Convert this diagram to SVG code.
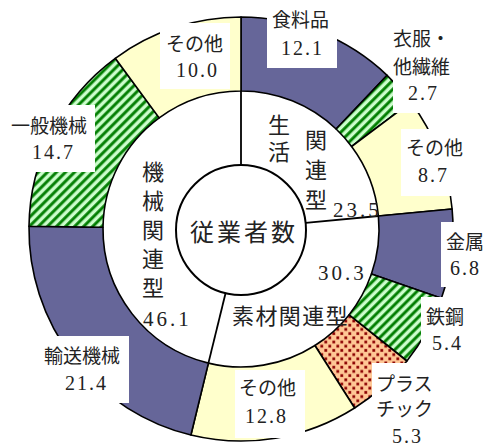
<svg xmlns="http://www.w3.org/2000/svg" width="483" height="446" viewBox="0 0 483 446">
<style>
.w{stroke:#000;stroke-width:1.6;stroke-linejoin:round}
.pu{fill:#666699}
.ye{fill:#FFFFCC}
.st{fill:url(#stripe)}
.dt{fill:url(#dots)}
.box{fill:#fff}
.jp{font-family:"Liberation Serif","Noto Sans CJK JP",serif;font-size:19px;fill:#222}
.num{font-family:"Liberation Serif","Noto Sans CJK JP",serif;font-size:20px;letter-spacing:2px;fill:#222}
.mj{font-family:"Liberation Serif","Noto Sans CJK JP",serif;font-size:22px;fill:#222;text-anchor:middle}
.mn{font-family:"Liberation Serif","Noto Sans CJK JP",serif;font-size:21px;letter-spacing:3px;fill:#222}
.sep{stroke:#000;stroke-width:1.8;fill:none}
</style>
<defs>
<pattern id="stripe" width="6.4" height="6.4" patternUnits="userSpaceOnUse" patternTransform="rotate(45)">
<rect width="6.4" height="6.4" fill="#CCFFCC"/>
<rect x="0" width="3.4" height="6.4" fill="#55AA55"/>
<rect x="0.6" width="2.2" height="6.4" fill="#008000"/>
</pattern>
<pattern id="dots" width="8" height="8.4" patternUnits="userSpaceOnUse">
<rect width="8" height="8.4" fill="#FFC795"/>
<rect x="0.3" y="0.3" width="3" height="3" fill="#B84A3A"/>
<rect x="0.7" y="0.7" width="2.2" height="2.2" fill="#8B0000"/>
<rect x="4.3" y="4.5" width="3" height="3" fill="#B84A3A"/>
<rect x="4.7" y="4.9" width="2.2" height="2.2" fill="#8B0000"/>
</pattern>
</defs>
<rect width="483" height="446" fill="#fff"/>

<g id="ring">
<g id="shokuryohin"><path class="w pu" d="M241,17 A212,212 0 0 1 387.1,75.3 L336.1,129 A138,138 0 0 0 241,91 Z"/></g>
<g id="ifuku"><path class="w st" d="M387.1,75.3 A212,212 0 0 1 410.9,102.2 L351.6,146.5 A138,138 0 0 0 336.1,129 Z"/></g>
<g id="sonota1"><path class="w ye" d="M410.9,102.2 A212,212 0 0 1 452.1,209 L378.4,216 A138,138 0 0 0 351.6,146.5 Z"/></g>
<g id="kinzoku"><path class="w pu" d="M452.1,209 A212,212 0 0 1 441.4,298.3 L371.4,274.1 A138,138 0 0 0 378.4,216 Z"/></g>
<g id="tekko"><path class="w st" d="M441.4,298.3 A212,212 0 0 1 406.9,361 L349,314.9 A138,138 0 0 0 371.4,274.1 Z"/></g>
<g id="plastic"><path class="w dt" d="M406.9,361 A212,212 0 0 1 354.6,408 L314.9,345.5 A138,138 0 0 0 349,314.9 Z"/></g>
<g id="sonota2"><path class="w ye" d="M354.6,408 A212,212 0 0 1 190.9,435 L208.4,363.1 A138,138 0 0 0 314.9,345.5 Z"/></g>
<g id="yuso"><path class="w pu" d="M190.9,435 A212,212 0 0 1 29,226.3 L103,227.3 A138,138 0 0 0 208.4,363.1 Z"/></g>
<g id="ippan"><path class="w st" d="M29,226.3 A212,212 0 0 1 115.3,58.3 L159.2,117.9 A138,138 0 0 0 103,227.3 Z"/></g>
<g id="sonota3"><path class="w ye" d="M115.3,58.3 A212,212 0 0 1 241,17 L241,91 A138,138 0 0 0 159.2,117.9 Z"/></g>
</g>

<g id="connectors">
<line class="sep" x1="241" y1="165" x2="241" y2="91"/>
<line class="sep" x1="305.7" y1="222.9" x2="378.4" y2="216"/>
<line class="sep" x1="225.6" y1="293" x2="208.4" y2="363.1"/>
</g>

<g id="center">
<circle cx="241" cy="230" r="65" fill="#fff" stroke="#000" stroke-width="2"/>
<text class="mj" x="190" y="241" style="text-anchor:start;font-size:24px;letter-spacing:3px">従業者数</text>
</g>

<g id="seikatsu">
<text class="mj" x="279" y="133">生</text>
<text class="mj" x="279" y="160">活</text>
<text class="mj" x="316" y="148">関</text>
<text class="mj" x="316" y="178">連</text>
<text class="mj" x="316" y="208">型</text>
<text class="mn" x="333" y="217">23.5</text>
</g>

<g id="sozai">
<text class="mn" x="318" y="280">30.3</text>
<text class="mj" x="232" y="324" style="text-anchor:start;letter-spacing:1.4px">素材関連型</text>
</g>

<g id="kikai">
<text class="mj" x="153" y="180">機</text>
<text class="mj" x="153" y="209">械</text>
<text class="mj" x="153" y="238">関</text>
<text class="mj" x="153" y="267">連</text>
<text class="mj" x="153" y="296">型</text>
<text class="mn" x="143" y="326">46.1</text>
</g>

<g id="labels">
<rect class="box" x="160" y="23" width="70" height="66"/>
<text class="jp" x="166" y="51">その他</text>
<text class="num" x="176" y="77">10.0</text>

<rect class="box" x="8" y="105" width="87" height="67"/>
<text class="jp" x="11" y="133">一般機械</text>
<text class="num" x="32" y="159">14.7</text>

<rect class="box" x="267" y="0" width="70" height="68"/>
<text class="jp" x="272" y="27">食料品</text>
<text class="num" x="281" y="55">12.1</text>

<rect class="box" x="393" y="25" width="70" height="88"/>
<text class="jp" x="393" y="46">衣服・</text>
<text class="jp" x="393" y="74">他繊維</text>
<text class="num" x="408" y="100">2.7</text>

<rect class="box" x="401" y="129" width="70" height="67"/>
<text class="jp" x="406" y="155">その他</text>
<text class="num" x="418" y="182">8.7</text>

<rect class="box" x="441" y="222" width="42" height="65"/>
<text class="jp" x="446" y="249">金属</text>
<text class="num" x="450" y="275">6.8</text>

<rect class="box" x="421" y="297" width="50" height="65"/>
<text class="jp" x="426" y="324">鉄鋼</text>
<text class="num" x="432" y="350">5.4</text>

<rect class="box" x="372" y="363" width="72" height="83"/>
<text class="jp" x="376" y="391">プラス</text>
<text class="jp" x="376" y="416">チック</text>
<text class="num" x="392" y="443">5.3</text>

<rect class="box" x="235" y="370" width="70" height="68"/>
<text class="jp" x="239" y="395">その他</text>
<text class="num" x="245" y="423">12.8</text>

<rect class="box" x="40" y="336" width="89" height="67"/>
<text class="jp" x="44" y="363">輸送機械</text>
<text class="num" x="65" y="390">21.4</text>
</g>
</svg>
